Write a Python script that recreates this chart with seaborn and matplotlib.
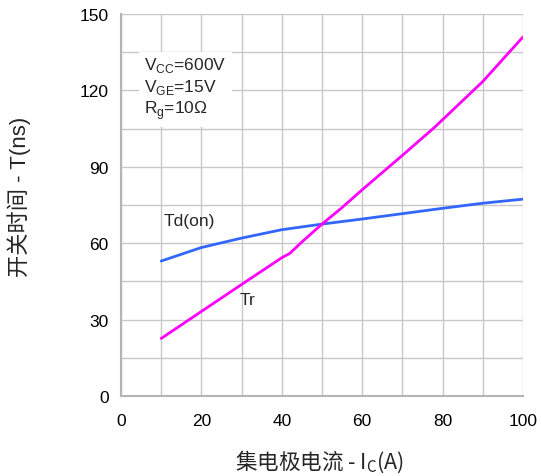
import numpy as np
import pandas as pd
import seaborn as sns
import matplotlib.pyplot as plt

sns.set_style('white')
plt.rcParams['font.family'] = ['Liberation Sans', 'Noto Sans CJK SC', 'DejaVu Sans']

# current Ic (A) vs. switching time (ns)
ic_td = [10, 20, 30, 40, 50, 60, 70, 80, 90, 100]
td_on = [53, 58.3, 62, 65.3, 67.5, 69.5, 71.6, 73.7, 75.7, 77.3]
ic_tr = [10, 20, 30, 40, 42, 45, 50, 55, 60, 70, 78, 90, 100]
tr = [22.6, 33.2, 43.8, 54.3, 56, 60.5, 67.5, 74, 81, 94.5, 105.5, 123.5, 141]

df = pd.concat([
    pd.DataFrame({'Ic': ic_td, 'T': td_on, 'curve': 'Td(on)'}),
    pd.DataFrame({'Ic': ic_tr, 'T': tr, 'curve': 'Tr'}),
])

fig = plt.figure(figsize=(5.41, 4.77), dpi=100)
ax = fig.add_axes([121/541, 80/477, 402/541, 382/477])

sns.lineplot(data=df, x='Ic', y='T', hue='curve', palette={'Td(on)': '#3366ff', 'Tr': '#ff00ff'},
             linewidth=2, legend=False, ax=ax, sort=False)

ax.set_xlim(0, 100)
ax.set_ylim(0, 150)
ax.set_xticks(np.arange(0, 101, 20))
ax.set_xticks(np.arange(0, 101, 10), minor=True)
ax.set_yticks(np.arange(0, 151, 30))
ax.set_yticks(np.arange(0, 151, 15), minor=True)
ax.grid(which='both', color='#c8c8c8', linewidth=1)
ax.set_axisbelow(True)
for s in ['top', 'right']:
    ax.spines[s].set_visible(False)
for s in ['left', 'bottom']:
    ax.spines[s].set_color('#b4b4b4')
    ax.spines[s].set_linewidth(1.5)
ax.tick_params(which='both', length=0, labelsize=12.5, colors='black', pad=9)
ax.tick_params(axis='x', pad=12)

ax.set_xlabel('集电极电流 - I$_\\mathregular{C}$(A)', fontsize=15.5, family='Noto Sans CJK SC',
              fontweight='light', va='baseline')
ax.xaxis.set_label_coords(0.495, -0.188)
ax.set_ylabel('开关时间 - T(ns)', fontsize=16, fontweight='light')
ax.yaxis.set_label_coords(-0.225, 0.525)

ax.text(10.5, 69, 'Td(on)', fontsize=12.5, va='center')
ax.text(29.5, 38, 'Tr', fontsize=12.5, va='center')

ax.text(5.8, 134, 'V$_\\mathregular{CC}$=600V\nV$_\\mathregular{GE}$=15V\nR$_\\mathregular{g}$=10Ω',
        fontsize=12.5, va='top', linespacing=1.2,
        bbox=dict(facecolor='white', edgecolor='none', pad=4))

fig.savefig('out.png', dpi=100)
